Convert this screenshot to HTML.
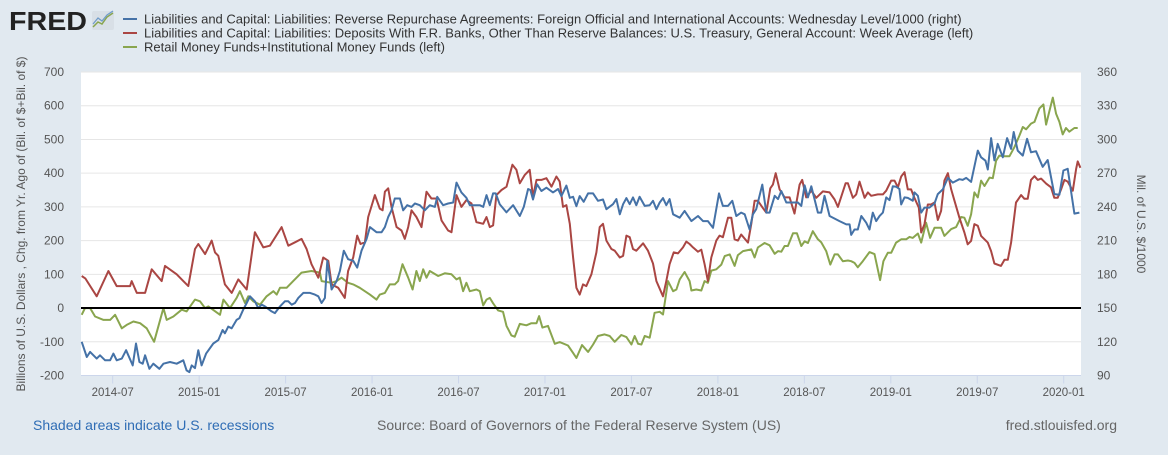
<!DOCTYPE html>
<html><head><meta charset="utf-8">
<style>
html,body{margin:0;padding:0;background:#e1e9f0;}
body{width:1168px;height:450px;overflow:hidden;font-family:"Liberation Sans",Arial,sans-serif;}
svg text{font-family:"Liberation Sans",Arial,sans-serif;}
</style></head>
<body>
<svg id="chart" width="1168" height="450" xmlns="http://www.w3.org/2000/svg">
  <rect x="0" y="0" width="1168" height="450" fill="#e1e9f0"/>
  <g>
    <text x="9" y="30" font-size="26" font-weight="bold" fill="#222" textLength="78" lengthAdjust="spacingAndGlyphs">FRED</text>
    <rect x="92" y="11" width="22" height="19" fill="#d8dfe6" rx="2"/>
    <polyline points="93,27 98,22 102,24 107,17 113,13" fill="none" stroke="#89a54e" stroke-width="1.5"/>
    <polyline points="93,24 98,18 102,21 107,15 113,11" fill="none" stroke="#6f9bc9" stroke-width="1.2"/>
  </g>
  <g>
    <g>
      <line x1="123" y1="19" x2="137" y2="19" stroke="#4572a7" stroke-width="2"/>
      <text x="144" y="23.5" font-size="13" fill="#333">Liabilities and Capital: Liabilities: Reverse Repurchase Agreements: Foreign Official and International Accounts: Wednesday Level/1000 (right)</text>
    </g>
    <g>
      <line x1="123" y1="33" x2="137" y2="33" stroke="#aa4643" stroke-width="2"/>
      <text x="144" y="37.5" font-size="13" fill="#333">Liabilities and Capital: Liabilities: Deposits With F.R. Banks, Other Than Reserve Balances: U.S. Treasury, General Account: Week Average (left)</text>
    </g>
    <g>
      <line x1="123" y1="47" x2="137" y2="47" stroke="#89a54e" stroke-width="2"/>
      <text x="144" y="51.5" font-size="13" fill="#333">Retail Money Funds+Institutional Money Funds (left)</text>
    </g>
  </g>
  <rect x="81" y="72" width="1000" height="303.5" fill="#fff"/>
  <g id="grid"></g>
  <g id="axes"></g>
  <g id="series"></g>
  <text transform="translate(25,224) rotate(-90)" text-anchor="middle" font-size="12" fill="#555">Billions of U.S. Dollars , Chg. from Yr. Ago of (Bil. of $+Bil. of $)</text>
  <text transform="translate(1137,224) rotate(90)" text-anchor="middle" font-size="12" fill="#555">Mil. of U.S. $/1000</text>
  <text x="33" y="430" font-size="14" fill="#2f6db5">Shaded areas indicate U.S. recessions</text>
  <text x="377" y="430" font-size="14" fill="#666">Source: Board of Governors of the Federal Reserve System (US)</text>
  <text x="1117" y="430" font-size="14" fill="#666" text-anchor="end">fred.stlouisfed.org</text>
</svg>
<script>
// months since 2014-07-01
const redMonths=[-2.15,-1.9,-1.11,-0.3,0.28,1.21,1.32,1.67,2.25,2.71,3.4,3.63,4.44,4.9,5.25,5.71,5.94,6.41,6.87,7.1,7.33,7.79,8.26,8.72,9.3,9.87,10.45,10.91,11.72,12.19,12.65,13.11,13.46,13.8,14.27,14.61,14.96,15.19,15.65,16.11,16.34,16.69,16.97,17.2,17.5,17.73,18.2,18.54,18.73,18.89,19.12,19.35,19.7,20.04,20.27,20.51,20.74,21.08,21.43,21.78,22.12,22.47,22.82,23.28,23.51,23.86,24.2,24.55,24.9,25.24,25.71,25.94,26.17,26.4,26.63,26.98,27.33,27.74,28.02,28.25,28.6,28.94,29.17,29.41,29.75,30.1,30.45,30.79,31.02,31.25,31.49,31.72,31.95,32.18,32.41,32.64,32.87,33.22,33.57,33.8,34.03,34.26,34.61,34.84,35.19,35.42,35.65,35.88,36.11,36.34,36.81,37.15,37.5,37.73,38.19,38.42,38.65,38.93,39.23,39.58,39.81,40.04,40.27,40.62,40.85,41.08,41.31,41.54,41.89,42.12,42.35,42.7,42.93,43.16,43.39,43.62,44.09,44.32,44.55,44.78,45.13,45.36,45.64,45.82,46.01,46.28,46.63,46.98,47.32,47.67,47.85,48.13,48.48,48.83,49.29,49.75,50.1,50.33,50.86,51.02,51.37,51.6,51.83,52.18,52.41,52.64,53.1,53.45,53.68,54.03,54.26,54.49,54.72,54.95,55.18,55.41,55.64,55.94,56.11,56.34,56.57,56.8,57.03,57.26,57.49,57.72,57.96,58.19,58.42,58.76,59.11,59.34,59.57,59.8,60.04,60.27,60.5,60.73,60.96,61.19,61.65,61.89,62.12,62.35,62.69,63.04,63.27,63.5,63.73,63.97,64.2,64.43,64.78,65.12,65.35,65.58,65.82,66.05,66.28,66.63,66.86,66.97,67.16];
const redValues=[95,88,35,110,65,65,80,45,45,115,80,125,100,80,65,175,190,160,200,165,155,70,45,85,55,225,180,185,240,185,195,205,175,130,90,150,140,70,60,30,110,150,215,190,195,270,335,295,290,345,355,300,240,230,205,240,290,270,240,345,325,325,260,230,225,335,300,320,310,255,250,270,240,245,335,350,360,425,410,370,395,410,330,380,380,385,360,390,375,300,305,250,150,60,40,70,65,100,165,240,250,200,175,170,150,155,215,210,175,170,192,170,132,80,35,80,130,165,162,180,197,190,180,167,173,130,80,150,200,215,210,268,268,204,200,218,194,250,318,318,296,283,355,366,400,352,328,328,280,366,380,328,348,327,346,343,322,300,370,370,327,337,375,327,343,333,337,337,348,378,378,358,390,403,352,352,327,298,224,249,307,307,313,261,288,378,400,352,318,268,224,189,199,249,244,214,204,194,169,132,125,143,143,194,313,335,324,324,380,391,380,384,369,358,327,327,352,380,375,348,412,435,416];

const blueMonths=[-2.15,-1.8,-1.57,-1.11,-0.88,-0.53,-0.18,0.05,0.28,0.63,0.93,1.39,1.62,1.85,2.08,2.25,2.55,2.82,3.24,3.52,3.98,4.44,4.9,5.13,5.32,5.48,5.71,5.94,6.17,6.48,6.98,7.33,7.63,7.79,8.02,8.26,8.6,8.79,9.06,9.3,9.53,9.87,10.1,10.34,10.57,11.03,11.26,11.61,11.95,12.19,12.42,12.65,12.88,13.23,13.69,14.03,14.27,14.5,14.73,14.89,15.19,15.54,15.77,16.04,16.34,16.69,16.97,17.27,17.62,17.85,18.31,18.66,18.89,19.12,19.35,19.58,19.93,20.16,20.44,20.74,20.97,21.31,21.66,22.01,22.36,22.52,22.93,23.28,23.63,23.86,24.2,24.55,24.78,25.13,25.48,25.71,25.94,26.17,26.4,26.58,26.86,27.32,27.79,28.25,28.53,28.83,28.99,29.17,29.45,29.75,30.1,30.56,30.91,31.14,31.49,31.72,31.95,32.18,32.41,32.69,32.99,33.34,33.68,34.03,34.26,34.72,34.96,35.19,35.42,35.65,35.88,36.11,36.34,36.57,36.92,37.27,37.5,37.73,37.96,38.19,38.42,38.65,38.89,39.35,39.69,40.16,40.62,40.97,41.31,41.66,42.08,42.35,42.7,43.0,43.28,43.62,43.86,44.2,44.43,44.66,45.08,45.36,45.59,45.94,46.17,46.4,46.75,47.21,47.55,47.79,48.02,48.25,48.48,48.94,49.17,49.4,49.75,50.44,50.91,51.14,51.25,51.48,51.71,51.95,52.29,52.52,52.75,52.99,53.22,53.45,53.68,53.91,54.14,54.37,54.6,54.72,54.95,55.18,55.53,55.64,55.88,56.11,56.34,56.68,57.03,57.26,57.61,57.96,58.3,58.76,58.99,59.23,59.57,60.04,60.27,60.57,60.73,60.96,61.19,61.42,61.77,62.07,62.35,62.53,62.81,63.16,63.46,63.73,64.08,64.54,64.89,65.35,65.7,65.98,66.28,66.74,67.09];
const blueValues=[120,106.5,111,105,108,103.5,103.5,109.5,103.5,105,112.5,99,118.5,102,100.5,108,96,100.5,96,100.5,102,100.5,103.5,94.5,93,99,96.6,112.5,99,109.5,118.5,121.5,130.5,127.5,133.5,132,139.5,141,148.5,154.5,160.5,156,150,153,151.5,147,145.5,151.5,156,156,153,154.5,159,163.5,163.5,162,160.5,154.5,159,192,166.5,174,183,201,193.5,192,186,201,211.5,222,217.5,217.5,222,231,237,247.5,247.5,237,241.5,240,243,241.5,237,241.5,240,249,241.5,243,243.9,261.6,252.9,248.1,241.5,241.5,241.5,240,250.5,241.5,252,252,242.4,235.2,241.5,231.9,240,255.9,255,246.6,260.1,254.1,257.1,252.9,255.9,249.6,258.9,248.1,249,240.6,249.6,244.5,252,252,245.4,246.6,237.9,242.4,246.9,233.4,242.4,247.8,242.4,248.4,241.5,249,240.9,241.5,245.4,237.9,243.9,247.8,241.5,246.9,233.4,230.4,236.4,227.4,231.9,227.4,227.4,221.4,252,240.9,240.9,245.4,231.9,234.9,233.4,219.9,233.4,237.9,259.8,234.9,234.9,249.9,246.9,254.1,243.9,243.9,243.9,240.9,259.2,248.4,258.3,234.9,234.9,249.9,231.9,227.4,224.4,224.4,215.1,219.9,219.9,231.9,225.9,219.9,234.9,227.4,232,234.9,248.4,246,258.3,258,256,242.1,248.4,248,245.4,252.9,249.9,234.9,239.4,239.4,243,251.4,255.6,265.8,261.6,264.6,264,265.8,262.2,290.1,284.1,281.1,273.3,301.2,281.4,296.1,284.1,301.2,291.6,306.6,290.1,285.6,300.6,288.6,289.5,275.7,281.7,251.4,250.8,272.4,273.9,234,234.9];

const greenMonths=[-2.15,-1.92,-1.57,-1.22,-0.64,-0.18,0.17,0.63,0.97,1.44,1.9,2.36,2.87,3.52,3.75,4.21,4.79,5.13,5.71,6.06,6.41,6.64,7.45,7.68,8.14,8.6,8.83,9.18,9.41,9.76,10.22,10.68,11.15,11.38,11.61,12.07,12.53,13.11,13.8,14.38,14.5,15.19,15.54,15.88,16.34,16.69,17.15,17.85,18.31,18.54,18.89,19.23,19.58,19.81,20.11,20.51,20.81,21.08,21.31,21.55,21.78,22.01,22.59,23.05,23.51,23.86,24.09,24.32,24.55,24.78,25.24,25.48,25.71,25.94,26.17,26.4,26.75,27.09,27.33,27.67,27.9,28.25,28.71,29.06,29.41,29.59,29.82,30.21,30.68,31.02,31.6,31.95,32.18,32.57,32.99,33.34,33.68,34.14,34.49,34.84,35.3,35.65,36.0,36.23,36.46,36.69,36.92,37.27,37.61,37.96,38.19,38.42,38.54,38.89,39.12,39.35,39.69,40.04,40.16,40.5,40.85,41.08,41.31,41.54,41.89,42.24,42.47,42.82,43.16,43.39,43.74,44.32,44.55,44.78,45.24,45.59,45.94,46.17,46.4,46.63,46.86,47.21,47.48,47.79,48.02,48.25,48.59,48.94,49.17,49.52,49.8,50.1,50.33,50.67,51.02,51.25,51.48,51.71,52.06,52.52,52.87,53.26,53.49,53.79,54.03,54.37,54.72,55.07,55.3,55.53,55.88,56.11,56.45,56.73,57.03,57.49,57.72,58.19,58.53,58.88,59.11,59.34,59.57,59.8,60.04,60.27,60.5,60.85,61.08,61.31,61.54,61.89,62.23,62.58,62.93,63.16,63.39,63.73,63.97,64.31,64.59,64.78,65.01,65.24,65.47,65.7,65.93,66.16,66.39,66.74,66.97];
const greenValues=[-20,0,0,-25,-35,-35,-20,-60,-50,-40,-45,-60,-100,0,-35,-25,-5,-10,25,20,0,5,-20,25,0,30,50,15,35,20,10,35,50,40,60,60,80,105,110,105,80,75,80,90,75,70,60,40,25,40,45,70,70,80,130,90,55,110,80,115,90,110,95,103,100,85,90,50,75,50,55,50,8,25,30,14,-7,-11,-53,-81,-85,-47,-51,-45,-45,-24,-58,-53,-106,-101,-111,-133,-148,-110,-130,-108,-83,-78,-83,-100,-80,-86,-108,-83,-106,-108,-83,-88,-14,-11,-19,46,80,50,55,85,107,80,52,55,52,80,75,111,115,129,154,159,125,157,169,174,150,180,193,186,161,169,167,184,184,222,222,184,198,193,228,204,195,169,129,159,159,139,141,139,134,121,139,166,160,83,139,164,164,194,204,204,211,208,221,194,253,208,238,238,214,234,240,270,268,244,278,343,328,378,362,387,385,437,452,450,450,477,512,537,530,547,552,592,604,544,584,624,576,552,515,534,523,534,534];

const leftTicks=[-200,-100,0,100,200,300,400,500,600,700];
const rightTicks=[90,120,150,180,210,240,270,300,330,360];
const xTickLabels=["2014-07","2015-01","2015-07","2016-01","2016-07","2017-01","2017-07","2018-01","2018-07","2019-01","2019-07","2020-01"];
const xTickMonths=[0,6,12,18,24,30,36,42,48,54,60,66];

const PL=81,PR=1081,PT=72,PB=375.5;
const mMin=-2.2,mMax=67.2;
function xs(m){return PL+(m-mMin)/(mMax-mMin)*(PR-PL);}
function yl(v){return PB-(v+200)/900*(PB-PT);}
function yr(v){return PB-(v-90)/270*(PB-PT);}
const NS="http://www.w3.org/2000/svg";
function mk(tag,attrs,parent){const e=document.createElementNS(NS,tag);for(const k in attrs)e.setAttribute(k,attrs[k]);parent.appendChild(e);return e;}
const grid=document.getElementById('grid'),axes=document.getElementById('axes'),ser=document.getElementById('series');

leftTicks.forEach((v,i)=>{
  const y=yl(v);
  if(v!==-200&&v!==0){const g=mk('line',{x1:PL,x2:PR,y1:y,y2:y,stroke:'#e6e6e6','stroke-width':1},grid);
  
  }
  const t=mk('text',{x:64,y:y+4,'text-anchor':'end','font-size':12,fill:'#555'},axes);
  t.textContent=v;
  
  
});
rightTicks.forEach(v=>{
  const t=mk('text',{x:1097,y:yr(v)+4,'font-size':12,fill:'#555'},axes);
  t.textContent=v;
  
  
});
const xb=mk('line',{x1:PL,x2:PR,y1:PB,y2:PB,stroke:'#ccd6eb','stroke-width':1},axes);


xTickMonths.forEach((m,i)=>{
  const x=xs(m);
  const tk=mk('line',{x1:x,x2:x,y1:PB,y2:PB+8,stroke:'#ccd6eb','stroke-width':1},axes);
  
  
  const t=mk('text',{x:x,y:396,'text-anchor':'middle','font-size':11.5,fill:'#555'},axes);
  t.textContent=xTickLabels[i];
  
  
});
function draw(ms,vs,yf,color,name){
  const pts=ms.map((m,i)=>xs(m).toFixed(1)+','+yf(vs[i]).toFixed(1)).join(' ');
  const p=mk('polyline',{points:pts,fill:'none',stroke:color,'stroke-width':2,'stroke-linejoin':'round'},ser);
  
  
}
draw(greenMonths,greenValues,yl,'#89a54e','money-funds-line');
draw(redMonths,redValues,yl,'#aa4643','treasury-account-line');
draw(blueMonths,blueValues,yr,'#4572a7','reverse-repo-line');
const z=mk('line',{x1:PL,x2:PR,y1:yl(0),y2:yl(0),stroke:'#000','stroke-width':2},ser);


</script>
</body></html>
